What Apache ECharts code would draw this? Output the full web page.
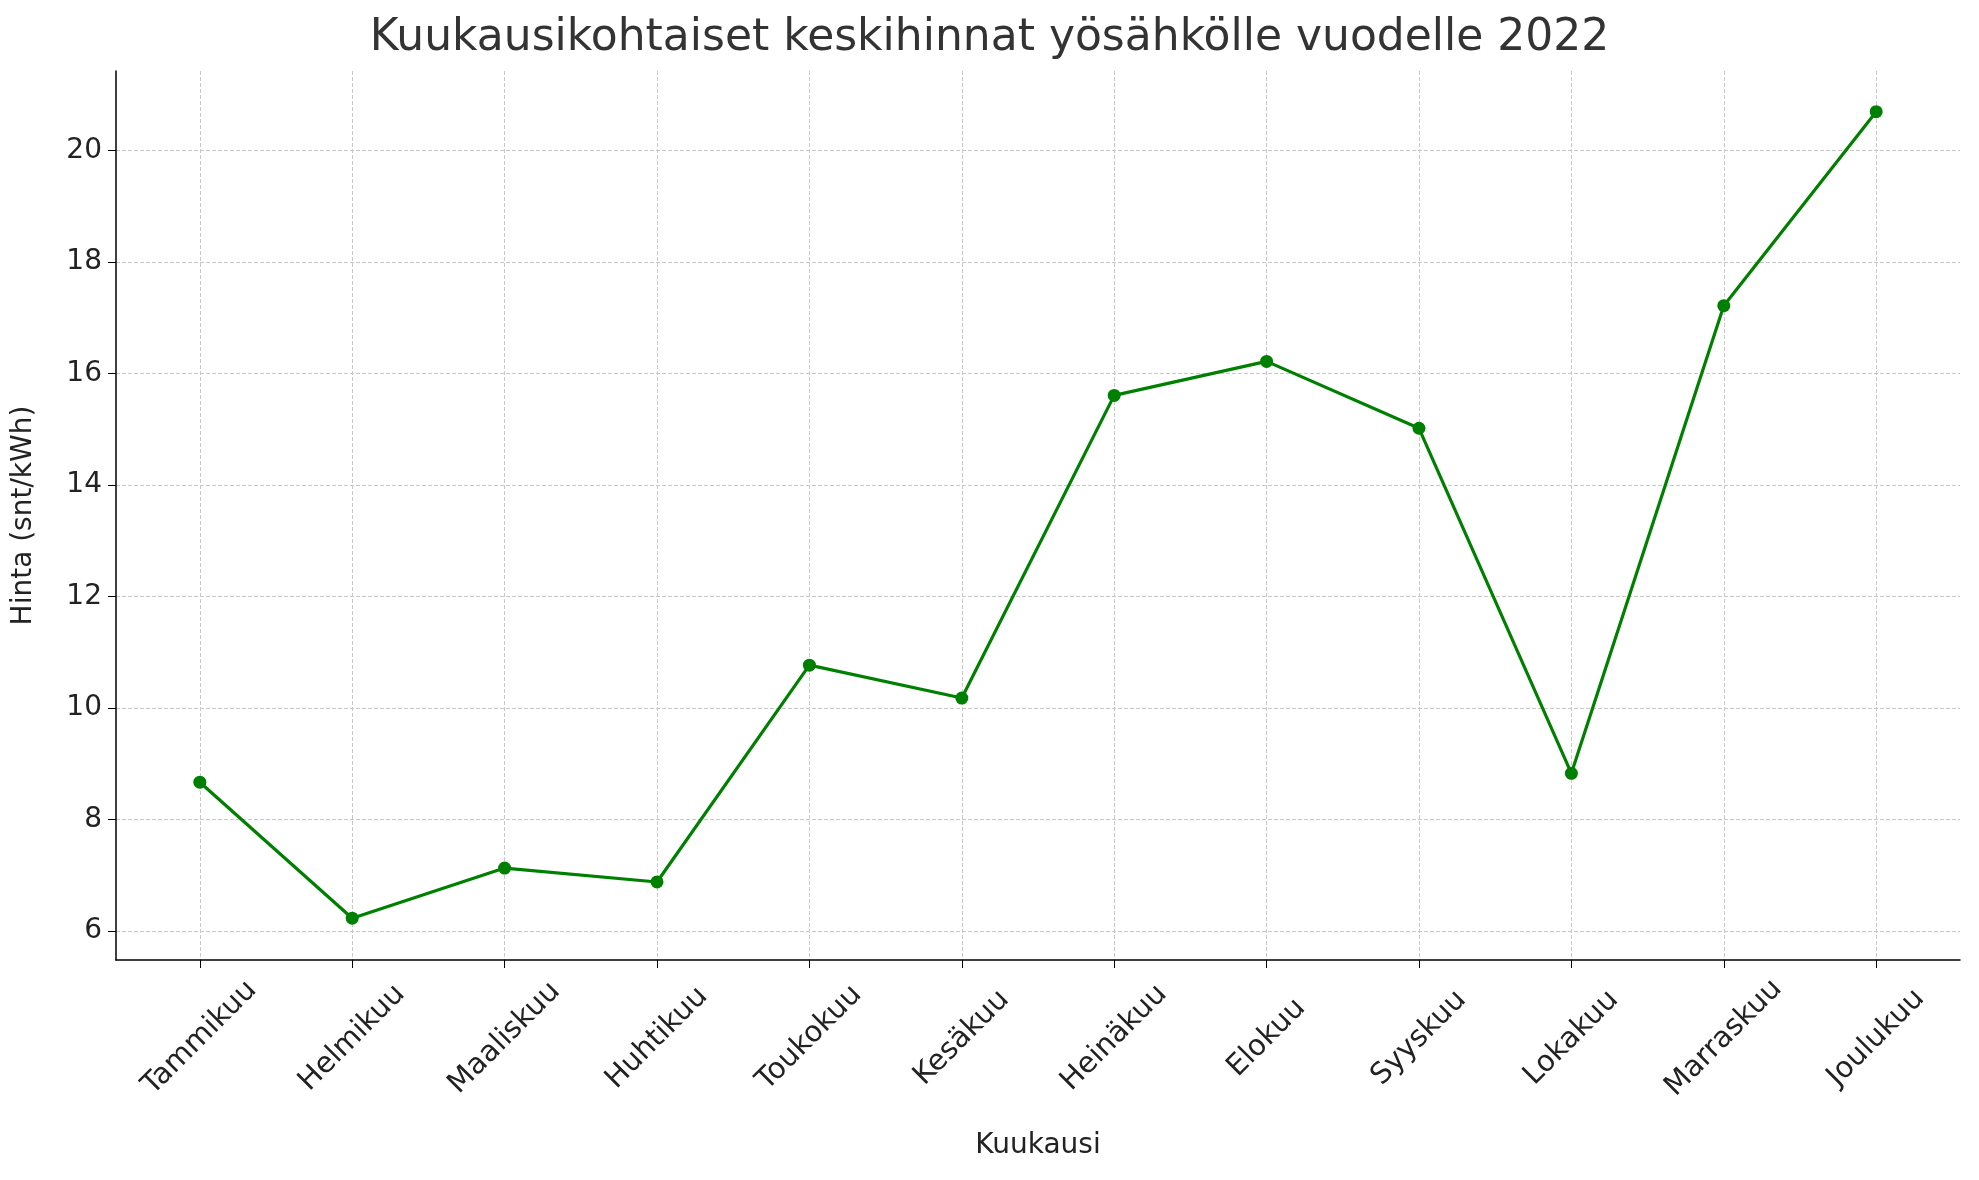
<!DOCTYPE html><html><head><meta charset="utf-8"><script src="https://cdn.jsdelivr.net/npm/echarts@6/dist/echarts.min.js"></script>
<style>html,body{margin:0;padding:0;background:#fff}#c{width:1979px;height:1180px}</style></head><body><div id="c"></div><script>
const months=["Tammikuu","Helmikuu","Maaliskuu","Huhtikuu","Toukokuu","Kesäkuu","Heinäkuu","Elokuu","Syyskuu","Lokakuu","Marraskuu","Joulukuu"];
const prices=[8.67,6.23,7.13,6.88,10.77,10.18,15.61,16.22,15.02,8.83,17.22,20.70];
const yTicks=[6,8,10,12,14,16,18,20];
const xTicks=months.map((m,i)=>i);
const font='DejaVu Sans';
const chart=echarts.init(document.getElementById('c'));
chart.setOption({
 animation:false,
 title:{text:'Kuukausikohtaiset keskihinnat yösähkölle vuodelle 2022',left:'center',top:12,textStyle:{fontFamily:font,fontSize:44,fontWeight:'normal',color:'#333'}},
 grid:{left:116,right:19,top:71,bottom:220},
 xAxis:{type:'value',min:-0.55,max:11.55,name:'Kuukausi',nameLocation:'middle',nameGap:172,
  nameTextStyle:{fontFamily:font,fontSize:28,color:'#222'},
  axisLine:{onZero:false,lineStyle:{color:'#000',width:1.5}},
  axisTick:{customValues:xTicks,length:8,lineStyle:{color:'#000'}},
  axisLabel:{customValues:xTicks,rotate:45,align:'center',verticalAlign:'middle',fontFamily:font,fontSize:29,color:'#222',margin:78,formatter:v=>months[Math.round(v)]},
  splitLine:{show:true,lineStyle:{type:'dashed',color:'#c8c8c8'}}},
 yAxis:{type:'value',min:5.48,max:21.43,name:'Hinta (snt/kWh)',nameLocation:'middle',nameGap:78,
  nameTextStyle:{fontFamily:font,fontSize:28,color:'#222'},
  axisLine:{show:true,onZero:false,lineStyle:{color:'#000',width:1.5}},
  axisTick:{show:true,customValues:yTicks,length:8,lineStyle:{color:'#000'}},
  axisLabel:{customValues:yTicks,fontFamily:font,fontSize:28,color:'#222',margin:14},
  splitLine:{show:true,lineStyle:{type:'dashed',color:'#c8c8c8'}}},
 series:[{type:'line',data:prices.map((p,i)=>[i,p]),symbol:'circle',symbolSize:13,
  lineStyle:{color:'#008000',width:3.2},itemStyle:{color:'#008000'}}]
});
</script></body></html>
